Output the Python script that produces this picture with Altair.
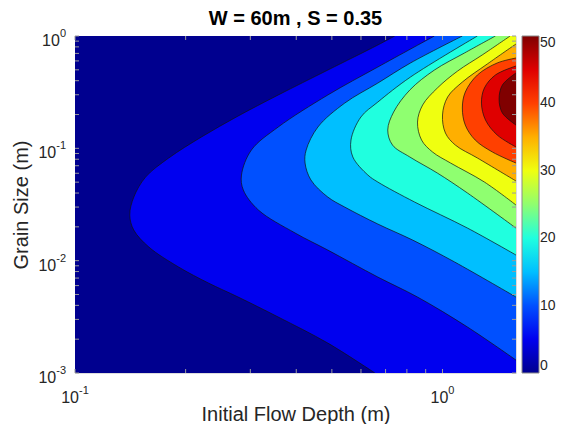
import altair as alt
import pandas as pd

# ---------------- text ----------------
title_text = "W = 60m , S = 0.35"
x_title = "Initial Flow Depth (m)"
y_title = "Grain Size (m)"

# ---------------- axes ----------------
x_domain = [0.1, 10 ** 0.2]
y_domain = [0.001, 1.0]
x_tick_values = [0.1, 1.0]
x_tick_base = ["10", "10"]
x_tick_exp = ["-1", "0"]
y_tick_values = [0.001, 0.01, 0.1, 1.0]
y_tick_base = ["10", "10", "10", "10"]
y_tick_exp = ["-3", "-2", "-1", "0"]
x_tick_marks = [0.1, 0.2, 0.3, 0.4, 0.5, 0.6, 0.7, 0.8, 0.9, 1.0]
y_tick_marks = [0.001, 0.002, 0.003, 0.004, 0.005, 0.006, 0.007, 0.008, 0.009,
                0.01, 0.02, 0.03, 0.04, 0.05, 0.06, 0.07, 0.08, 0.09,
                0.1, 0.2, 0.3, 0.4, 0.5, 0.6, 0.7, 0.8, 0.9, 1.0]

# ---------------- colour levels (jet, 0..50) ----------------
levels = [0, 5, 10, 15, 20, 25, 30, 35, 40, 45, 50]
level_colors = ["#00008F", "#0000EF", "#0050FF", "#00BFFF", "#20FFDF", "#8FFF70",
                "#EFFF10", "#FFAF00", "#FF4000", "#DF0000", "#800000"]
cbar_values = [0, 10, 20, 30, 40, 50]

# ---------------- contour boundaries (log10 depth, log10 grain size), bottom -> top ----
c5_lx = [-0.184, -0.312, -0.447, -0.556, -0.637, -0.718, -0.799, -0.840, -0.851,
         -0.840, -0.808, -0.745, -0.656, -0.556, -0.447, -0.312, -0.176, -0.130]
c5_ly = [-3.0, -2.734, -2.502, -2.324, -2.199, -2.057, -1.879, -1.728, -1.594,
         -1.434, -1.256, -1.086, -0.899, -0.712, -0.525, -0.303, -0.080, 0.0]
c10_lx = [0.2, 0.068, -0.068, -0.176, -0.312, -0.401, -0.501, -0.542, -0.547,
          -0.520, -0.447, -0.312, -0.176, -0.022]
c10_ly = [-2.885, -2.591, -2.324, -2.146, -1.906, -1.754, -1.549, -1.371, -1.238,
          -1.015, -0.810, -0.525, -0.276, 0.0]
c15_lx = [0.2, 0.033, -0.081, -0.176, -0.266, -0.312, -0.358, -0.374, -0.371,
          -0.339, -0.266, -0.176, -0.087, 0.054]
c15_ly = [-2.324, -2.012, -1.817, -1.674, -1.523, -1.434, -1.282, -1.131, -1.015,
          -0.810, -0.597, -0.419, -0.240, 0.0]
c20_lx = [0.2, 0.068, -0.076, -0.176, -0.203, -0.244, -0.249, -0.222, -0.176, -0.087, 0.095]
c20_ly = [-1.950, -1.710, -1.478, -1.300, -1.238, -1.077, -0.926, -0.721, -0.588, -0.365, 0.0]
c25_lx = [0.2, 0.068, -0.014, -0.089, -0.136, -0.149, -0.133, -0.089, -0.022, 0.060, 0.144]
c25_ly = [-1.710, -1.398, -1.220, -1.077, -0.971, -0.837, -0.677, -0.481, -0.303, -0.151, 0.0]
c30_lx = [0.2, 0.114, 0.022, -0.027, -0.057, -0.068, -0.054, -0.014, 0.041, 0.108, 0.184]
c30_ly = [-1.505, -1.300, -1.131, -1.033, -0.926, -0.766, -0.614, -0.463, -0.312, -0.169, 0.0]
c35_lx = [0.2, 0.095, 0.035, 0.008, 0.0, 0.014, 0.054, 0.122, 0.2]
c35_ly = [-1.291, -1.086, -0.971, -0.864, -0.703, -0.543, -0.410, -0.249, -0.071]
c40_lx = [0.2, 0.136, 0.089, 0.062, 0.054, 0.062, 0.095, 0.149, 0.2]
c40_ly = [-1.131, -1.033, -0.926, -0.793, -0.641, -0.499, -0.347, -0.240, -0.196]
c45_lx = [0.2, 0.149, 0.117, 0.106, 0.114, 0.144, 0.2]
c45_ly = [-0.988, -0.882, -0.748, -0.597, -0.463, -0.347, -0.267]
c50_lx = [0.2, 0.163, 0.154, 0.163, 0.2]
c50_ly = [-0.793, -0.686, -0.561, -0.436, -0.329]

contours = {5: (c5_lx, c5_ly), 10: (c10_lx, c10_ly), 15: (c15_lx, c15_ly),
            20: (c20_lx, c20_ly), 25: (c25_lx, c25_ly), 30: (c30_lx, c30_ly),
            35: (c35_lx, c35_ly), 40: (c40_lx, c40_ly), 45: (c45_lx, c45_ly),
            50: (c50_lx, c50_ly)}

rows = []
for lev, (lxs, lys) in contours.items():
    for i, (a, b) in enumerate(zip(lxs, lys)):
        rows.append({"level": lev, "idx": i, "x": 10 ** a, "y": 10 ** b, "xr": x_domain[1]})
df = pd.DataFrame(rows)
df_base = pd.DataFrame([{"level": 0, "x": x_domain[0], "x2": x_domain[1],
                         "y": y_domain[0], "y2": y_domain[1]}])
df_xt = pd.DataFrame({"v": x_tick_marks})
df_yt = pd.DataFrame({"v": y_tick_marks})
df_title = pd.DataFrame({"t": [title_text]})

W, H = 441, 337
FONT = "Liberation Sans"
TXT = "#262626"
BASE_FS, EXP_FS = 16, 11


def text_width(s, fs):
    w = {"-": 0.333}
    return sum(w.get(c, 0.556) for c in s) * fs


xs = alt.Scale(type="log", domain=x_domain, nice=False, zero=False)
ys = alt.Scale(type="log", domain=y_domain, nice=False, zero=False)
cs = alt.Scale(domain=levels, range=level_colors, interpolate="rgb")

x_axis = alt.Axis(labels=False, grid=False, ticks=False, domain=False,
                  title=x_title, titleFontSize=20, titleFont=FONT, titleColor=TXT,
                  titleFontWeight="normal", titleBaseline="alphabetic", titleY=47)
y_axis = alt.Axis(labels=False, grid=False, ticks=False, domain=False,
                  title=y_title, titleFontSize=20, titleFont=FONT, titleColor=TXT,
                  titleFontWeight="normal", titleBaseline="middle", titleX=-54,
                  titleAngle=270)
legend = alt.Legend(title=None, orient="right", offset=6, padding=0,
                    gradientLength=H, gradientThickness=17, values=cbar_values,
                    labelFontSize=14, labelFont=FONT, labelColor=TXT, labelOffset=1,
                    gradientStrokeColor="#8a8a8a", gradientStrokeWidth=1,
                    direction="vertical")
color = alt.Color("level:Q", scale=cs, legend=legend)

base = alt.Chart(df_base).mark_rect(clip=True).encode(
    x=alt.X("x:Q", scale=xs, axis=x_axis),
    x2="x2:Q",
    y=alt.Y("y:Q", scale=ys, axis=y_axis),
    y2="y2:Q",
    color=color,
)

layers = [base]
for lev in contours:
    layers.append(
        alt.Chart(df[df.level == lev]).mark_area(
            orient="horizontal", interpolate="catmull-rom", clip=True
        ).encode(
            x=alt.X("x:Q", scale=xs, stack=None),
            x2="xr:Q",
            y=alt.Y("y:Q", scale=ys),
            color=color,
        )
    )

lines = alt.Chart(df).mark_line(
    interpolate="catmull-rom", color="#111111", strokeWidth=0.7, clip=True
).encode(
    x=alt.X("x:Q", scale=xs),
    y=alt.Y("y:Q", scale=ys),
    detail="level:N",
    order="idx:Q",
)
layers.append(lines)

# inward tick marks on all four sides (MATLAB box style)
tick_col = "#9a9a9a"
layers.append(alt.Chart(df_xt).mark_rule(color=tick_col, strokeWidth=1).encode(
    x=alt.X("v:Q", scale=xs), y=alt.value(H), y2=alt.value(H - 4)))
layers.append(alt.Chart(df_xt).mark_rule(color=tick_col, strokeWidth=1).encode(
    x=alt.X("v:Q", scale=xs), y=alt.value(0), y2=alt.value(4)))
layers.append(alt.Chart(df_yt).mark_rule(color=tick_col, strokeWidth=1).encode(
    y=alt.Y("v:Q", scale=ys), x=alt.value(0), x2=alt.value(4)))
layers.append(alt.Chart(df_yt).mark_rule(color=tick_col, strokeWidth=1).encode(
    y=alt.Y("v:Q", scale=ys), x=alt.value(W), x2=alt.value(W - 4)))

# tick labels "10" with superscript exponents
for v, b, e in zip(x_tick_values, x_tick_base, x_tick_exp):
    d = pd.DataFrame({"v": [v], "b": [b], "e": [e]})
    a = (text_width(b, BASE_FS) - text_width(e, EXP_FS)) / 2
    layers.append(alt.Chart(d).mark_text(
        align="right", baseline="middle", fontSize=BASE_FS, font=FONT, color=TXT, dx=a
    ).encode(x=alt.X("v:Q", scale=xs), y=alt.value(H + 25), text="b:N"))
    layers.append(alt.Chart(d).mark_text(
        align="left", baseline="middle", fontSize=EXP_FS, font=FONT, color=TXT, dx=a
    ).encode(x=alt.X("v:Q", scale=xs), y=alt.value(H + 18), text="e:N"))

for v, b, e in zip(y_tick_values, y_tick_base, y_tick_exp):
    d = pd.DataFrame({"v": [v], "b": [b], "e": [e]})
    we = text_width(e, EXP_FS)
    layers.append(alt.Chart(d).mark_text(
        align="right", baseline="middle", fontSize=BASE_FS, font=FONT, color=TXT, dy=5
    ).encode(y=alt.Y("v:Q", scale=ys), x=alt.value(-9 - we), text="b:N"))
    layers.append(alt.Chart(d).mark_text(
        align="right", baseline="middle", fontSize=EXP_FS, font=FONT, color=TXT, dy=-2
    ).encode(y=alt.Y("v:Q", scale=ys), x=alt.value(-9), text="e:N"))

# chart title
layers.append(alt.Chart(df_title).mark_text(
    align="center", baseline="alphabetic", fontSize=20, fontWeight="bold",
    font=FONT, color="#000000"
).encode(x=alt.value(W / 2), y=alt.value(-11), text="t:N"))

chart = alt.layer(*layers).properties(
    width=W, height=H,
    autosize=alt.AutoSizeParams(type="none"),
    padding={"left": 67, "top": 28, "right": 40, "bottom": 51},
).configure_view(stroke="#7a7a7a", strokeWidth=1).configure(background="white")

chart.save("out.html", embed_options={"renderer": "svg", "actions": False})
